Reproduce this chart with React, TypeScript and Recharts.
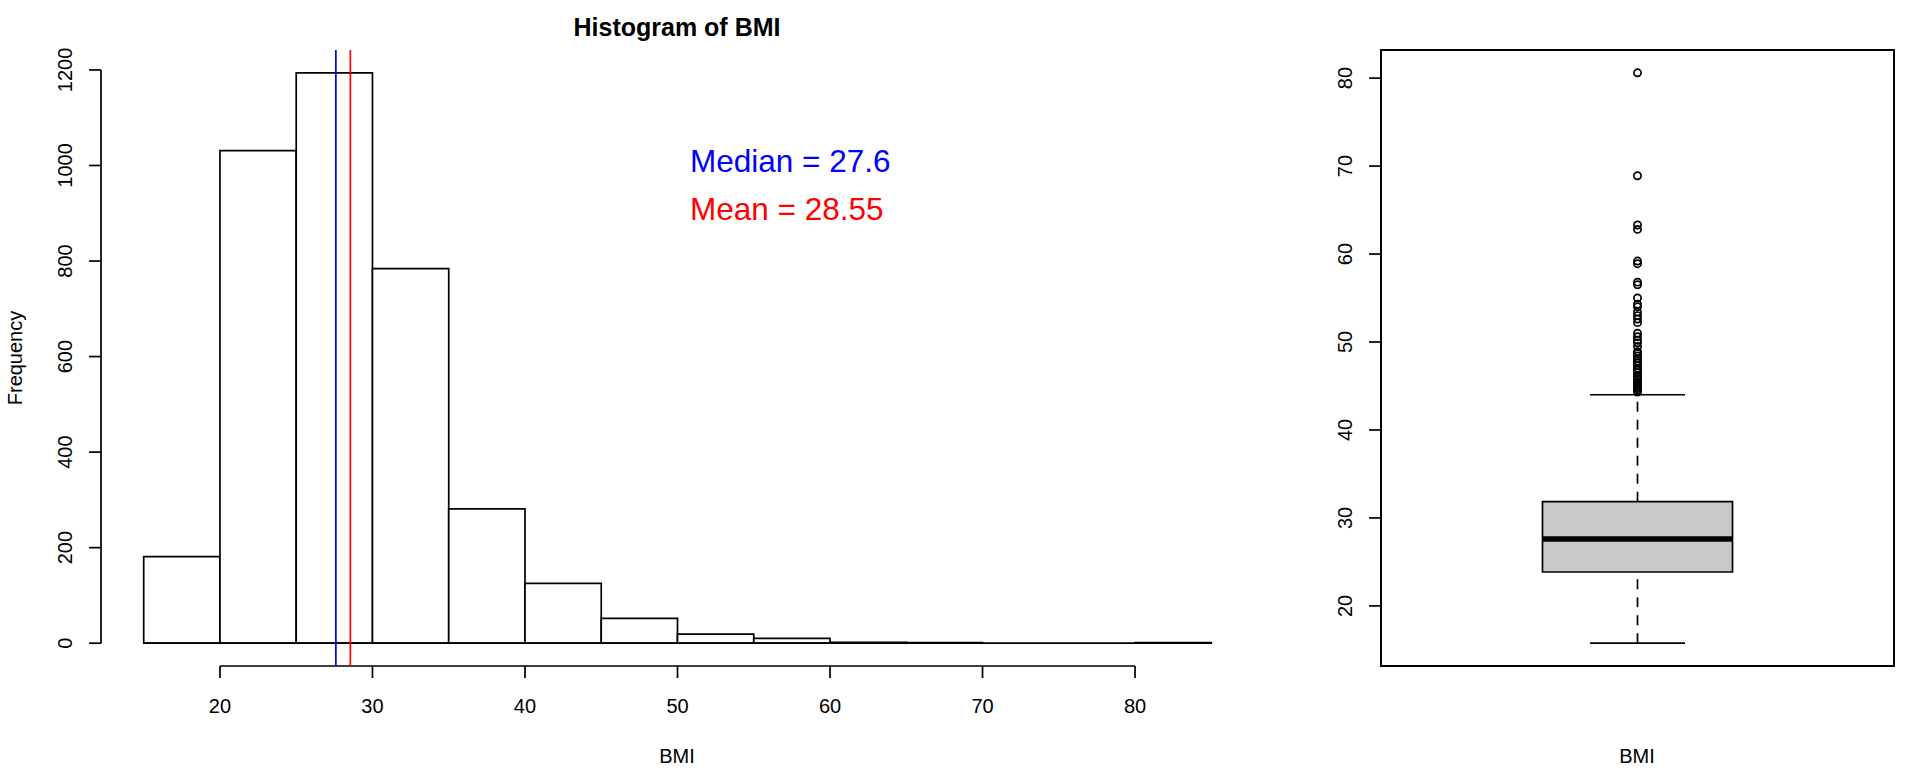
import React from 'react'
import { ComposedChart, XAxis, YAxis, ReferenceArea, ReferenceLine, ReferenceDot, Scatter } from 'recharts'

const FONT = '"Liberation Sans", Arial, Helvetica, sans-serif'

// histogram of BMI, bins of width 5
const binEdges = [15, 20, 25, 30, 35, 40, 45, 50, 55, 60, 65, 70, 75, 80, 85]
const binCounts = [181, 1031, 1194, 784, 281, 125, 52, 19, 10, 2, 1, 0, 0, 1]
const histXTicks = [20, 30, 40, 50, 60, 70, 80]
const histYTicks = [0, 200, 400, 600, 800, 1000, 1200]
const bmiMedian = 27.6
const bmiMean = 28.55

// boxplot summary: lower whisker, Q1, median, Q3, upper whisker
const boxStats = [15.76, 23.85, 27.6, 31.85, 44.0]
const boxOutliers = [
  80.6, 68.9, 63.3, 62.8, 59.2, 58.9, 56.8, 56.5, 55.0, 54.3, 54.0, 53.4, 53.0, 52.6, 52.2,
  51.0, 50.6, 50.2, 49.9, 49.5, 48.9, 48.7, 48.4, 48.1, 47.8, 47.6, 47.3, 47.0, 46.8, 46.5,
  46.2, 46.0, 45.8, 45.5, 45.3, 45.1, 44.9, 44.7, 44.5, 44.3,
]
const boxYTicks = [20, 30, 40, 50, 60, 70, 80]

// R style 4% padding on the axis ranges
const pad = (lo: number, hi: number): [number, number] => [lo - (hi - lo) * 0.04, hi + (hi - lo) * 0.04]
const histXDomain = pad(binEdges[0], binEdges[binEdges.length - 1])
const histYDomain = pad(0, Math.max(...binCounts))
const boxYDomain = pad(Math.min(boxStats[0], ...boxOutliers), Math.max(boxStats[4], ...boxOutliers))
const boxXDomain = pad(0.5, 1.5)

const LW = 1.7
const txt = { fontFamily: FONT, fill: '#000' }

const XTick = ({ x, y, payload }: any) => (
  <text x={x} y={y + 33} textAnchor="middle" fontSize={20} {...txt}>{payload.value}</text>
)

const YTick = ({ x, y, payload }: any) => (
  <text x={x - 15} y={y} transform={`rotate(-90 ${x - 15} ${y})`} textAnchor="middle" fontSize={20} {...txt}>
    {payload.value}
  </text>
)

const note = (text: string, color: string) => ({ viewBox }: any) => (
  <text
    x={viewBox.x + viewBox.width / 2 + 12.5}
    y={viewBox.y + viewBox.height / 2 + 7}
    fontSize={31.5}
    fontFamily={FONT}
    fill={color}
  >
    {text}
  </text>
)

function Histogram() {
  return (
    <ComposedChart width={1300} height={768} margin={{ top: 50, right: 46, bottom: 42, left: 41 }}>
      <XAxis
        type="number"
        dataKey="x"
        domain={histXDomain}
        ticks={histXTicks}
        interval={0}
        allowDataOverflow
        axisLine={false}
        tickSize={12}
        tickLine={{ stroke: '#000', strokeWidth: LW }}
        tick={(p: any) => <XTick {...p} />}
        height={60}
      />
      <YAxis
        type="number"
        domain={histYDomain}
        ticks={histYTicks}
        interval={0}
        allowDataOverflow
        axisLine={false}
        tickSize={12}
        tickLine={{ stroke: '#000', strokeWidth: LW }}
        tick={(p: any) => <YTick {...p} />}
        width={60}
      />
      {binCounts.map((c, i) => (
        <ReferenceArea
          key={i}
          x1={binEdges[i]}
          x2={binEdges[i + 1]}
          y1={0}
          y2={c}
          fill="#fff"
          fillOpacity={1}
          stroke="#000"
          strokeWidth={LW}
          ifOverflow="visible"
        />
      ))}
      <ReferenceLine
        segment={[{ x: binEdges[0], y: 0 }, { x: binEdges[binEdges.length - 1], y: 0 }]}
        stroke="#000"
        strokeWidth={LW}
        ifOverflow="visible"
      />
      <ReferenceLine
        segment={[{ x: histXDomain[0], y: 0 }, { x: histXDomain[0], y: histYTicks[histYTicks.length - 1] }]}
        stroke="#000"
        strokeWidth={LW}
        ifOverflow="visible"
      />
      <ReferenceLine
        segment={[{ x: histXTicks[0], y: histYDomain[0] }, { x: histXTicks[histXTicks.length - 1], y: histYDomain[0] }]}
        stroke="#000"
        strokeWidth={LW}
        ifOverflow="visible"
      />
      <ReferenceLine x={bmiMedian} stroke="#0000ff" strokeWidth={LW} />
      <ReferenceLine x={bmiMean} stroke="#ff0000" strokeWidth={LW} />
      <ReferenceDot x={50} y={1000} r={1} fill="none" stroke="none" label={{ content: note(`Median = ${bmiMedian}`, '#0000ff') }} />
      <ReferenceDot x={50} y={900} r={1} fill="none" stroke="none" label={{ content: note(`Mean = ${bmiMean}`, '#ff0000') }} />
    </ComposedChart>
  )
}

function BoxPlot() {
  const [lo, q1, med, q3, hi] = boxStats
  const pts = boxOutliers.map(v => ({ x: 1, y: v }))
  return (
    <ComposedChart width={620} height={768} margin={{ top: 50, right: 26, bottom: 102, left: 21 }}>
      <XAxis type="number" dataKey="x" domain={boxXDomain} allowDataOverflow hide />
      <YAxis
        type="number"
        dataKey="y"
        domain={boxYDomain}
        ticks={boxYTicks}
        interval={0}
        allowDataOverflow
        axisLine={false}
        tickSize={12}
        tickLine={{ stroke: '#000', strokeWidth: LW }}
        tick={(p: any) => <YTick {...p} />}
        width={60}
      />
      <ReferenceArea
        x1={boxXDomain[0]}
        x2={boxXDomain[1]}
        y1={boxYDomain[0]}
        y2={boxYDomain[1]}
        fill="none"
        fillOpacity={0}
        stroke="#000"
        strokeWidth={2}
        ifOverflow="visible"
      />
      <ReferenceLine segment={[{ x: 1, y: lo }, { x: 1, y: q1 }]} stroke="#000" strokeWidth={LW} strokeDasharray="10 8" />
      <ReferenceLine segment={[{ x: 1, y: q3 }, { x: 1, y: hi }]} stroke="#000" strokeWidth={LW} strokeDasharray="10 8" />
      <ReferenceLine segment={[{ x: 0.9, y: lo }, { x: 1.1, y: lo }]} stroke="#000" strokeWidth={LW} />
      <ReferenceLine segment={[{ x: 0.9, y: hi }, { x: 1.1, y: hi }]} stroke="#000" strokeWidth={LW} />
      <ReferenceArea x1={0.8} x2={1.2} y1={q1} y2={q3} fill="#c9c9c9" fillOpacity={1} stroke="#000" strokeWidth={LW} />
      <ReferenceLine segment={[{ x: 0.8, y: med }, { x: 1.2, y: med }]} stroke="#000" strokeWidth={5.5} />
      <Scatter
        data={pts}
        isAnimationActive={false}
        shape={(p: any) => <circle cx={p.cx} cy={p.cy} r={3.6} fill="none" stroke="#000" strokeWidth={LW} />}
      />
    </ComposedChart>
  )
}

export default function App() {
  return (
    <div style={{ position: 'fixed', left: 0, top: 0, width: 1920, height: 768, background: '#fff', fontFamily: FONT }}>
      <div style={{ position: 'absolute', left: 0, top: 0 }}>
        <Histogram />
      </div>
      <div style={{ position: 'absolute', left: 1300, top: 0 }}>
        <BoxPlot />
      </div>
      <svg width={1920} height={768} style={{ position: 'absolute', left: 0, top: 0, pointerEvents: 'none' }}>
        <text x={677} y={35.5} textAnchor="middle" fontSize={25} fontWeight="bold" {...txt}>Histogram of BMI</text>
        <text x={677} y={763} textAnchor="middle" fontSize={20} {...txt}>BMI</text>
        <text x={1637} y={763} textAnchor="middle" fontSize={20} {...txt}>BMI</text>
        <text x={22} y={358} transform="rotate(-90 22 358)" textAnchor="middle" fontSize={20} {...txt}>Frequency</text>
      </svg>
    </div>
  )
}
